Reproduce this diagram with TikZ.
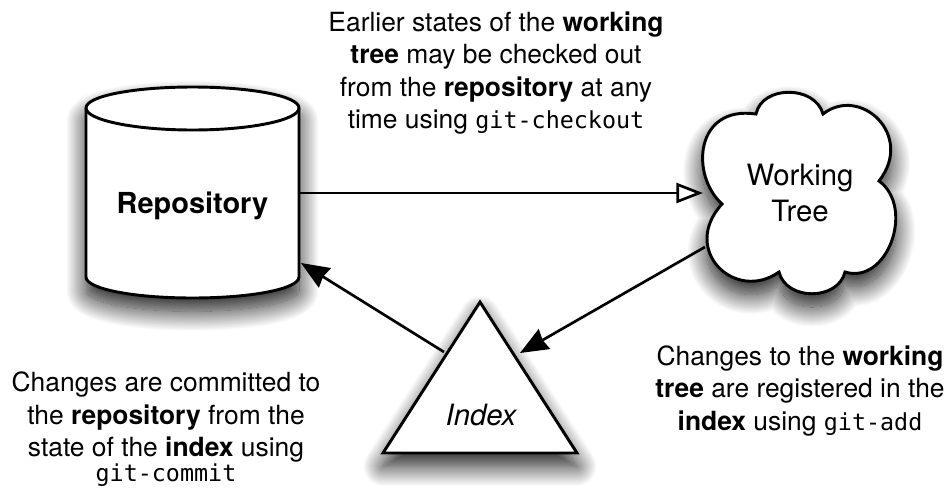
\documentclass[tikz,border=0pt]{standalone}
\usepackage{fontspec}
\setmainfont{TeX Gyre Heros}
\setmonofont[Scale=0.885]{DejaVu Sans Mono}
\usetikzlibrary{arrows.meta,shadows.blur}
\tikzset{
  x=0.75pt,y=-0.75pt,
  shape line/.style={draw=black,line width=2.2pt,fill=white,line join=miter},
  soft shadow/.style={blur shadow={shadow xshift=0pt,shadow yshift=-10pt,shadow blur radius=15pt,shadow blur steps=24,shadow opacity=90}},
  conn/.style={draw=black,line width=2pt},
  solid head/.style={-{Stealth[length=21pt,width=17pt,inset=1.5pt]}},
  open head/.style={-{Triangle[open,fill=white,length=20pt,width=15pt]}},
  caption/.style={align=center,font=\fontsize{19.8}{24.4}\selectfont,inner sep=0pt},
  label/.style={align=center,inner sep=0pt,font=\fontsize{22}{27}\selectfont},
}
\begin{document}
\begin{tikzpicture}
\useasboundingbox (0,0) rectangle (949,487);
% Repository
\path[shape line,soft shadow] (86,108) .. controls (86,96) and (134,87) .. (192.5,87)
  .. controls (251,87) and (299,96) .. (299,108) -- (299,277)
  .. controls (299,289) and (251,298) .. (192.5,298)
  .. controls (134,298) and (86,289) .. (86,277) -- cycle;
\draw[shape line,fill=none] (86,108) .. controls (86,120) and (134,130) .. (192.5,130)
  .. controls (251,130) and (299,120) .. (299,108);
\node[label,font=\fontsize{21.7}{26}\selectfont\bfseries] (repo) at (192.5,206) {Repository};
% Working tree
\path[shape line,soft shadow] (722,204)
  .. controls (690,175) and (695,105) .. (756,114)
  .. controls (762,85) and (815,85) .. (823,114)
  .. controls (860,85) and (915,135) .. (879,181)
  .. controls (915,207) and (888,285) .. (845,272)
  .. controls (838,301) and (786,301) .. (779,272)
  .. controls (735,303) and (680,250) .. (722,204) -- cycle;
\node[label] (tree) at (800,193) {Working\\Tree};
% Index
\path[shape line,soft shadow] (480,302) -- (577,453) -- (383,453) -- cycle;
\node[label,font=\fontsize{22}{27}\selectfont\itshape] (index) at (481,415) {Index};
% anchors
\coordinate (repoR) at (299,193);
\coordinate (treeL) at (703,193);
\coordinate (treeLL) at (705,247);
\coordinate (indexR) at (520,353);
\coordinate (indexL) at (444,352);
\coordinate (repoRL) at (301,263);
\draw[conn,open head] (repoR) -- (treeL);
\draw[conn,solid head] (treeLL) -- (indexR);
\draw[conn,solid head] (indexL) -- (repoRL);
% Captions
\node[caption] (c1) at (496,73) {Earlier states of the \textbf{working}\\\textbf{tree} may be checked out\\from the \textbf{repository} at any\\time using \texttt{git-checkout}};
\node[caption] (c2) at (166,429.5) {Changes are committed to\\the \textbf{repository} from the\\state of the \textbf{index} using\\[-5.5pt]\texttt{git-commit}};
\node[caption] (c3) at (800,391) {Changes to the \textbf{working}\\\textbf{tree} are registered in the\\\textbf{index} using \texttt{git-add}};
\end{tikzpicture}
\end{document}
